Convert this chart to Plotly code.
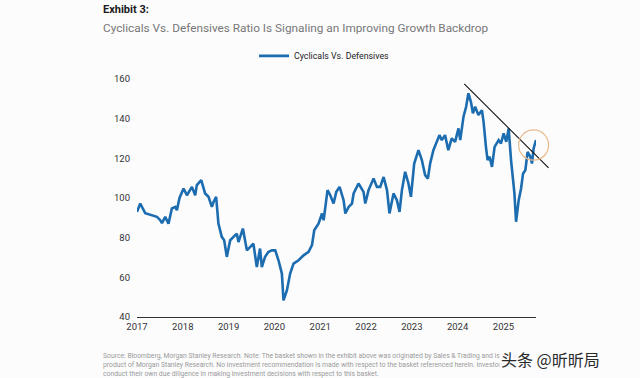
import plotly.graph_objects as go
import pandas as pd

# ---- data ----
dates = [
    "2017-01-01", "2017-01-27", "2017-03-08", "2017-04-30", "2017-06-09", "2017-07-05",
    "2017-07-19", "2017-08-14", "2017-09-09", "2017-10-06", "2017-11-02", "2017-11-15",
    "2017-12-06", "2018-01-07", "2018-02-03", "2018-03-15", "2018-04-10", "2018-04-23",
    "2018-05-28", "2018-06-28", "2018-07-25", "2018-08-21", "2018-09-03", "2018-09-24",
    "2018-10-12", "2018-11-08", "2018-11-27", "2018-12-18", "2019-01-14", "2019-02-09",
    "2019-03-08", "2019-03-21", "2019-04-25", "2019-05-27", "2019-06-22", "2019-07-18",
    "2019-08-14", "2019-09-09", "2019-09-23", "2019-10-19", "2019-11-14", "2019-12-12",
    "2020-01-08", "2020-02-03", "2020-03-01", "2020-03-14", "2020-04-10", "2020-05-06",
    "2020-06-02", "2020-07-12", "2020-08-21", "2020-09-30", "2020-10-27", "2020-11-14",
    "2020-12-18", "2021-01-15", "2021-01-28", "2021-02-28", "2021-03-22", "2021-04-17",
    "2021-05-09", "2021-06-04", "2021-07-06", "2021-07-20", "2021-08-15", "2021-09-11",
    "2021-09-24", "2021-11-02", "2021-12-12", "2021-12-26", "2022-01-21", "2022-03-02",
    "2022-03-29", "2022-04-24", "2022-05-21", "2022-06-17", "2022-07-07", "2022-08-08",
    "2022-09-04", "2022-09-25", "2022-10-14", "2022-11-09", "2022-12-05", "2022-12-25",
    "2023-01-20", "2023-02-23", "2023-03-22", "2023-04-17", "2023-05-09", "2023-05-27",
    "2023-06-22", "2023-07-19", "2023-08-09", "2023-08-28", "2023-09-23", "2023-10-19",
    "2023-11-15", "2023-12-12", "2024-01-08", "2024-01-22", "2024-02-17", "2024-03-09",
    "2024-03-27", "2024-04-16", "2024-05-02", "2024-05-20", "2024-06-15", "2024-07-13",
    "2024-07-26", "2024-08-14", "2024-08-27", "2024-09-12", "2024-10-01", "2024-10-22",
    "2024-11-23", "2024-12-12", "2025-01-02", "2025-01-23", "2025-02-11", "2025-03-02",
    "2025-03-18", "2025-03-29", "2025-04-11", "2025-05-02", "2025-05-21", "2025-06-06",
    "2025-06-24", "2025-07-12", "2025-08-03", "2025-08-16", "2025-08-29", "2025-09-17",
]
ratio = [
    93.0, 97.2, 92.3, 91.3, 90.5, 88.8,
    87.3, 90.5, 87.0, 94.7, 95.5, 93.8,
    100.0, 104.8, 101.4, 105.6, 101.4, 106.5,
    109.0, 102.3, 100.6, 95.5, 98.0, 100.6,
    87.1, 80.4, 78.7, 70.3, 78.7, 80.4,
    82.0, 77.8, 84.6, 73.6, 75.3, 77.0,
    65.2, 74.5, 65.2, 70.3, 72.8, 73.6,
    73.6, 68.6, 61.9, 48.4, 53.4, 61.9,
    66.9, 68.6, 71.1, 72.8, 76.2, 83.7,
    87.1, 92.2, 88.8, 104.0, 101.4, 97.2,
    103.1, 105.6, 98.9, 92.2, 95.5, 97.2,
    102.3, 107.3, 103.1, 97.2, 104.0, 109.8,
    105.6, 105.6, 110.6, 104.0, 92.2, 102.3,
    98.9, 93.0, 104.0, 113.2, 107.3, 100.6,
    117.4, 124.1, 119.1, 111.5, 109.8, 117.4,
    124.1, 128.3, 131.7, 129.2, 131.7, 124.1,
    130.1, 128.3, 135.1, 129.2, 141.0, 146.0,
    152.8, 148.5, 142.7, 146.0, 141.8, 144.3,
    138.4, 125.8, 119.1, 120.8, 115.7, 125.8,
    129.2, 127.5, 132.6, 128.3, 135.1, 119.1,
    109.0, 102.3, 88.0, 98.9, 104.8, 112.4,
    114.0, 123.3, 120.8, 117.4, 125.0, 129.2,
]
year_ticks = ["2017", "2018", "2019", "2020", "2021", "2022", "2023", "2024", "2025"]
y_ticks = [40, 60, 80, 100, 120, 140, 160]

# trend line and highlight circle (annotation marks)
trend_dates = ["2024-02-23", "2025-12-26"]
trend_vals = [157.5, 115.2]
circle_center_date = "2025-08-29"
circle_center_val = 126.7

x_range = ["2017-01-01", "2025-09-17"]
y_range = [40, 160]

# ---- figure ----
fig = go.Figure()
fig.add_trace(go.Scatter(
    x=dates, y=ratio, mode="lines", name="Cyclicals Vs. Defensives",
    line=dict(color="#1c6cb0", width=2.6),
))

t0 = pd.Timestamp(x_range[0]).value
t1 = pd.Timestamp(x_range[1]).value


def to_paper(d):
    return (pd.Timestamp(d).value - t0) / (t1 - t0)


fig.add_shape(type="line", xref="paper", yref="y",
              x0=to_paper(trend_dates[0]), y0=trend_vals[0],
              x1=to_paper(trend_dates[1]), y1=trend_vals[1],
              line=dict(color="#111111", width=1.1))

cx = to_paper(circle_center_date)
rx = 15 / 399
fig.add_shape(type="circle", xref="paper", yref="y",
              x0=cx - rx, x1=cx + rx,
              y0=circle_center_val - 7.6, y1=circle_center_val + 7.6,
              line=dict(color="#e8b98c", width=1.2))

fig.update_layout(
    width=640, height=378,
    margin=dict(l=137, r=104, t=79, b=61),
    paper_bgcolor="#fcfcfd", plot_bgcolor="#fcfcfd",
    font=dict(family="Roboto, Arial, sans-serif", color="#333333"),
    showlegend=True,
    legend=dict(orientation="h", x=0.47, xanchor="center", y=1.097, yanchor="middle",
                font=dict(size=8.8, color="#222222"), itemwidth=30,
                bgcolor="rgba(0,0,0,0)"),
    xaxis=dict(type="date", range=x_range,
               tickvals=[y + "-01-01" for y in year_ticks], ticktext=year_ticks,
               showgrid=False, zeroline=False,
               showline=True, linecolor="#333333", linewidth=1.3,
               ticks="", tickfont=dict(size=9.5, color="#333333")),
    yaxis=dict(range=y_range, tickvals=y_ticks, showgrid=False, zeroline=False,
               showline=False, ticks="", ticklabelstandoff=6,
               tickfont=dict(size=9.5, color="#333333")),
)

fig.add_annotation(text="<b>Exhibit 3:</b>", xref="paper", yref="paper",
                   x=-0.0905, xanchor="left", y=1.290, yanchor="middle",
                   showarrow=False, font=dict(size=11, color="#1a1a1a"))
fig.add_annotation(text="Cyclicals Vs. Defensives Ratio Is Signaling an Improving Growth Backdrop",
                   xref="paper", yref="paper", x=-0.0905, xanchor="left", y=1.214, yanchor="middle",
                   showarrow=False, font=dict(size=11.8, color="#777777"))

foot = ("Source: Bloomberg, Morgan Stanley Research. Note: The basket shown in the exhibit above was originated by Sales &amp; Trading and is not a<br>"
        "product of Morgan Stanley Research. No investment recommendation is made with respect to the basket referenced herein. Investors should<br>"
        "conduct their own due diligence in making investment decisions with respect to this basket.")
fig.add_annotation(text=foot, xref="paper", yref="paper", x=-0.0905, xanchor="left",
                   y=-0.139, yanchor="top", align="left", showarrow=False,
                   font=dict(size=6.8, color="#9a9a9a"))
fig.add_annotation(text="头条 @昕昕局", xref="paper", yref="paper", x=1.165, xanchor="right",
                   y=-0.177, yanchor="middle", showarrow=False,
                   bgcolor="rgba(252,252,253,0.85)",
                   font=dict(size=16, color="#2a2a2a", family="Noto Sans CJK SC"))

fig.write_html("out.html", config={"displayModeBar": False},
               post_script="document.body.style.margin='0';")
